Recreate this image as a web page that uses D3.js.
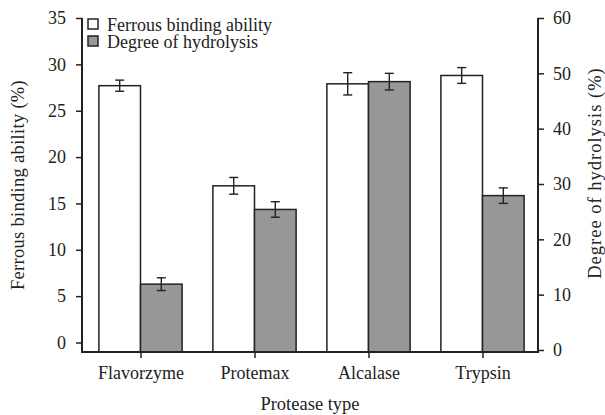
<!DOCTYPE html>
<html>
<head>
<meta charset="utf-8">
<script src="https://cdn.jsdelivr.net/npm/d3@7/dist/d3.min.js"></script>
<style>
  body { margin: 0; background: #fff; }
  svg text { font-family: "Liberation Serif", "Times New Roman", serif; fill: #222; }
</style>
</head>
<body>
<div id="chart"></div>
<script>
const categories = ["Flavorzyme", "Protemax", "Alcalase", "Trypsin"];
const seriesNames = ["Ferrous binding ability", "Degree of hydrolysis"];
const ferrous = [27.7, 16.9, 27.9, 28.8];
const ferrousErr = [0.6, 0.9, 1.2, 0.85];
const hydrolysis = [11.9, 25.4, 48.5, 27.9];
const hydrolysisErr = [1.15, 1.4, 1.5, 1.4];
const leftTicks = [0, 5, 10, 15, 20, 25, 30, 35];
const rightTicks = [0, 10, 20, 30, 40, 50, 60];

const W = 605, H = 415;
const m = {left: 82, right: 538, top: 18, bottom: 352};
const fills = ["#ffffff", "#979797"];
const ink = "#222";
const serif = '"Liberation Serif", "Times New Roman", serif';

const svg = d3.select("#chart").append("svg")
  .attr("width", W).attr("height", H);

let x0 = d3.scaleBand()
    .domain(categories)
    .range([m.left + 1.5, m.right + 1.5])
    .paddingInner(0.27)
    .paddingOuter(0.135),
  x1 = d3.scaleBand()
    .domain(seriesNames)
    .range([0, x0.bandwidth()]),
  yL = d3.scaleLinear().domain([0, 35]).range([342.5, m.top]),
  yR = d3.scaleLinear().domain([0, 60]).range([350, m.top]);

// data rows: one per category per series
let rows = [];
categories.forEach((c, i) => {
  rows.push({cat: c, s: 0, v: ferrous[i], e: ferrousErr[i], y: yL});
  rows.push({cat: c, s: 1, v: hydrolysis[i], e: hydrolysisErr[i], y: yR});
});

svg.append("g").attr("class", "bars")
  .selectAll("rect").data(rows).enter().append("rect")
  .attr("x", d => x0(d.cat) + x1(seriesNames[d.s]))
  .attr("width", x1.bandwidth())
  .attr("y", d => d.y(d.v))
  .attr("height", d => m.bottom - d.y(d.v))
  .attr("fill", d => fills[d.s])
  .attr("stroke", ink)
  .attr("stroke-width", 1.5);

// error bars
let eb = svg.append("g").attr("stroke", ink).attr("stroke-width", 1.4);
rows.forEach(d => {
  let cx = x0(d.cat) + x1(seriesNames[d.s]) + x1.bandwidth() / 2,
    yt = d.y(d.v + d.e), yb = d.y(d.v - d.e);
  eb.append("line").attr("x1", cx).attr("x2", cx).attr("y1", yt).attr("y2", yb);
  eb.append("line").attr("x1", cx - 4.5).attr("x2", cx + 4.5).attr("y1", yt).attr("y2", yt);
  eb.append("line").attr("x1", cx - 4.5).attr("x2", cx + 4.5).attr("y1", yb).attr("y2", yb);
});

// axes
let styleAxis = (g) => {
  g.attr("font-family", serif);
  g.select(".domain").remove();
  g.selectAll(".tick line").attr("stroke", ink).attr("stroke-width", 1.5);
  g.selectAll(".tick text")
    .style("font-family", serif)
    .style("font-size", "18px").attr("fill", ink);
};

svg.append("g")
  .attr("transform", `translate(${m.left},0)`)
  .call(d3.axisLeft(yL).tickValues(leftTicks).tickSize(6).tickPadding(10))
  .call(styleAxis);

svg.append("g")
  .attr("transform", `translate(${m.right},0)`)
  .call(d3.axisRight(yR).tickValues(rightTicks).tickSize(6).tickPadding(9))
  .call(styleAxis);

svg.append("g")
  .attr("transform", `translate(0,${m.bottom})`)
  .call(d3.axisBottom(d3.scalePoint().domain(categories)
      .range([x0(categories[0]) + x0.bandwidth() / 2,
              x0(categories[3]) + x0.bandwidth() / 2]))
    .tickSize(6).tickPadding(8))
  .call(styleAxis);

// frame lines
svg.append("path")
  .attr("d", `M${m.left},${m.top}V${m.bottom}H${m.right}V${m.top}`)
  .attr("stroke", ink).attr("stroke-width", 2).attr("fill", "none");

// axis titles
svg.append("text")
  .attr("transform", "translate(24,185) rotate(-90)")
  .attr("text-anchor", "middle")
  .style("font-size", "18.5px")
  .style("letter-spacing", "0.3px")
  .text("Ferrous binding ability (%)");

svg.append("text")
  .attr("transform", "translate(601,173) rotate(-90)")
  .attr("text-anchor", "middle")
  .style("font-size", "18.5px")
  .style("letter-spacing", "1px")
  .text("Degree of hydrolysis (%)");

svg.append("text")
  .attr("x", 310).attr("y", 410)
  .attr("text-anchor", "middle")
  .style("font-size", "18.5px")
  .text("Protease type");

// legend
let legend = svg.append("g").selectAll("g").data(seriesNames).enter().append("g")
  .attr("transform", (d, i) => `translate(88,${19 + i * 17})`);
legend.append("rect")
  .attr("width", 10).attr("height", 10)
  .attr("fill", (d, i) => fills[i])
  .attr("stroke", ink).attr("stroke-width", 1.5);
legend.append("text")
  .attr("x", 19).attr("y", 11.5)
  .style("font-size", "18px")
  .text(d => d);
</script>
</body>
</html>
